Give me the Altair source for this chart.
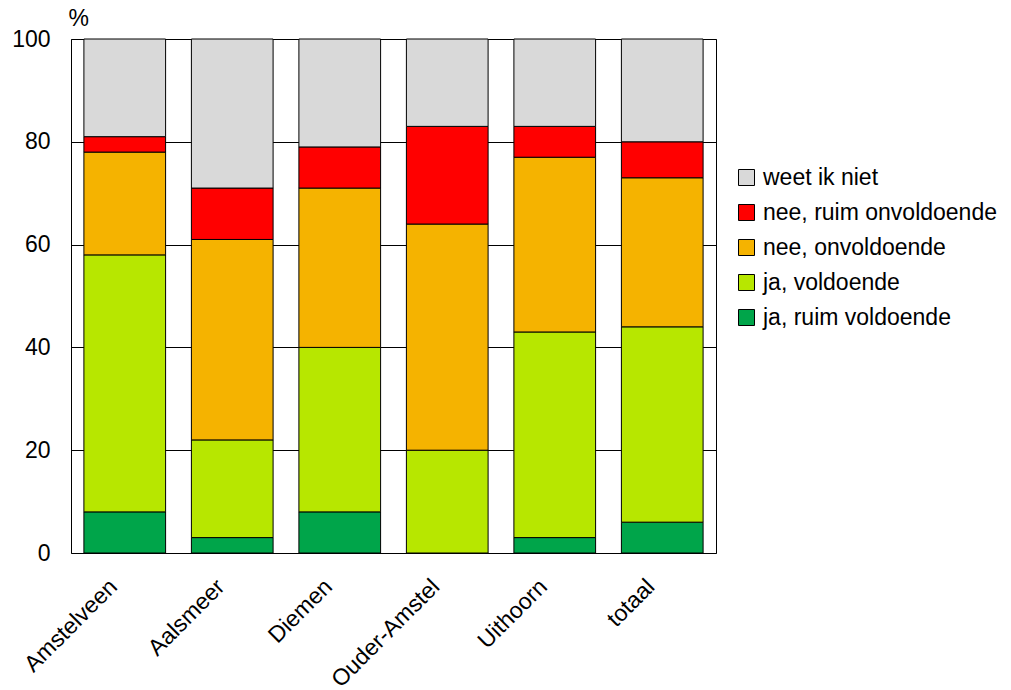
import altair as alt
import pandas as pd

gemeenten = ["Amstelveen", "Aalsmeer", "Diemen", "Ouder-Amstel", "Uithoorn", "totaal"]
categorieen = ["ja, ruim voldoende", "ja, voldoende", "nee, onvoldoende",
               "nee, ruim onvoldoende", "weet ik niet"]
kleuren = ["#00A54A", "#B7E700", "#F5B300", "#FF0000", "#D9D9D9"]

ja_ruim = [8, 3, 8, 0, 3, 6]
ja = [50, 19, 32, 20, 40, 38]
nee = [20, 39, 31, 44, 34, 29]
nee_ruim = [3, 10, 8, 19, 6, 7]
weet_niet = [19, 29, 21, 17, 17, 20]

series = [ja_ruim, ja, nee, nee_ruim, weet_niet]
rows = []
for ci, (cat, vals) in enumerate(zip(categorieen, series)):
    for g, v in zip(gemeenten, vals):
        rows.append({"gemeente": g, "categorie": cat, "waarde": v, "volgorde": ci})
df = pd.DataFrame(rows)

legend_order = list(reversed(categorieen))
FONT = "Liberation Sans"

bars = alt.Chart(df).mark_bar(stroke="black", strokeWidth=1).encode(
    x=alt.X("gemeente:N", sort=gemeenten, title=None,
            scale=alt.Scale(paddingInner=0.24, paddingOuter=0.12),
            axis=alt.Axis(labelAngle=-45, labelAlign="right", labelBaseline="top",
                          labelFontSize=23, labelFont=FONT, labelColor="black",
                          ticks=False, domain=False, labelPadding=22, labelOffset=-19,
                          grid=False, labelLimit=0)),
    y=alt.Y("waarde:Q", stack="zero", title="%",
            scale=alt.Scale(domain=[0, 100], nice=False),
            axis=alt.Axis(values=[0, 20, 40, 60, 80, 100], grid=True, gridColor="black",
                          gridOpacity=1, gridWidth=1, domain=False, ticks=False,
                          labelFontSize=23, labelFont=FONT, labelColor="black",
                          labelPadding=21,
                          titleAngle=0, titleAnchor="end", titleAlign="left",
                          titleBaseline="bottom", titleX=-3, titleY=-9,
                          titleFontSize=23, titleFont=FONT,
                          titleFontWeight="normal", titleColor="black")),
    color=alt.Color("categorie:N",
                    scale=alt.Scale(domain=categorieen, range=kleuren),
                    sort=legend_order,
                    legend=alt.Legend(title=None, orient="none", legendX=664, legendY=127,
                                      symbolType="square", symbolSize=256,
                                      symbolStrokeColor="black", symbolStrokeWidth=1,
                                      labelFontSize=23, labelFont=FONT, labelLimit=0,
                                      labelColor="black", rowPadding=11, labelOffset=5,
                                      values=legend_order)),
    order=alt.Order("volgorde:Q", sort="ascending"),
)

chart = bars.properties(
    width=645, height=514,
    autosize=alt.AutoSizeParams(type="none"),
    padding={"left": 63, "top": 31, "right": 286, "bottom": 140},
).configure_view(stroke="black", strokeWidth=1)

chart.save("out.html", embed_options={"renderer": "svg", "actions": False})
